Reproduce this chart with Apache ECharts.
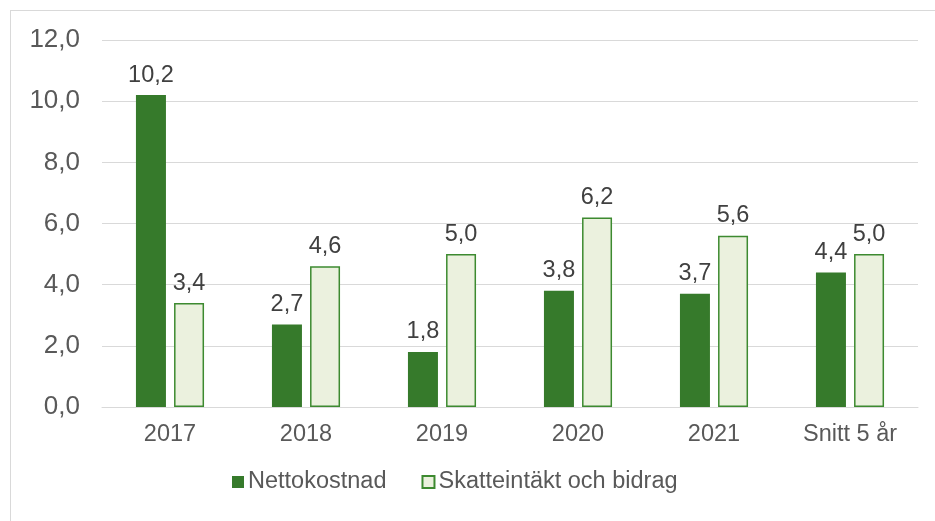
<!DOCTYPE html>
<html>
<head>
<meta charset="utf-8">
<script src="https://cdn.jsdelivr.net/npm/echarts@6/dist/echarts.min.js"></script>
<style>
  html, body { margin: 0; padding: 0; background: #fff; overflow: hidden; }
  #frame { position: absolute; left: 10px; top: 10px; width: 1200px; height: 1200px; border: 1px solid #d9d9d9; }
  #main { position: absolute; left: 0; top: 0; width: 935px; height: 521px; }
</style>
</head>
<body>
<div id="frame"></div>
<div id="main"></div>
<script>
var categories = ['2017', '2018', '2019', '2020', '2021', 'Snitt 5 år'];
var nettokostnad = [10.2, 2.7, 1.8, 3.8, 3.7, 4.4];
var skatteintakt = [3.4, 4.6, 5.0, 6.2, 5.6, 5.0];
var seriesNames = ['Nettokostnad', 'Skatteintäkt och bidrag'];

var textColor = '#595959';
var font = '"Liberation Sans", Arial, sans-serif';

function comma(v) {
  return v.toFixed(1).replace('.', ',');
}

var myChart = echarts.init(document.getElementById('main'));
var option = {
  animation: false,
  textStyle: { fontFamily: font },
  grid: { left: 102, right: 17, top: 40, bottom: 114 },
  legend: {
    bottom: 22,
    left: 227,
    itemWidth: 12,
    itemHeight: 12,
    itemGap: 35,
    icon: 'rect',
    textStyle: { color: textColor, fontSize: 23.5, fontFamily: font, padding: [0, 0, 0, -1] },
    data: seriesNames
  },
  xAxis: {
    type: 'category',
    data: categories,
    axisLine: { lineStyle: { color: '#d9d9d9', width: 1 } },
    axisTick: { show: false },
    axisLabel: { interval: 0, color: textColor, fontSize: 23.5, margin: 16, fontFamily: font }
  },
  yAxis: {
    type: 'value',
    min: 0, max: 12, interval: 2,
    axisLine: { show: false },
    axisTick: { show: false },
    splitLine: { lineStyle: { color: '#d9d9d9', width: 1 } },
    axisLabel: { color: textColor, fontSize: 26, margin: 22, fontFamily: font, formatter: comma }
  },
  series: [
    {
      name: seriesNames[0],
      type: 'bar',
      data: nettokostnad,
      barWidth: 30,
      barGap: '27%',
      itemStyle: { color: '#367a2b' },
      label: { show: true, position: 'top', distance: 8, color: '#404040', fontSize: 23.5, fontFamily: font,
        formatter: function (p) { return comma(p.value); } }
    },
    {
      name: seriesNames[1],
      type: 'bar',
      data: skatteintakt,
      barWidth: 30,
      itemStyle: { color: '#ebf1de', borderColor: '#3d8a30', borderWidth: 1.5 },
      label: { show: true, position: 'top', distance: 8, color: '#404040', fontSize: 23.5, fontFamily: font,
        formatter: function (p) { return comma(p.value); } }
    }
  ]
};
myChart.setOption(option);
</script>
</body>
</html>
